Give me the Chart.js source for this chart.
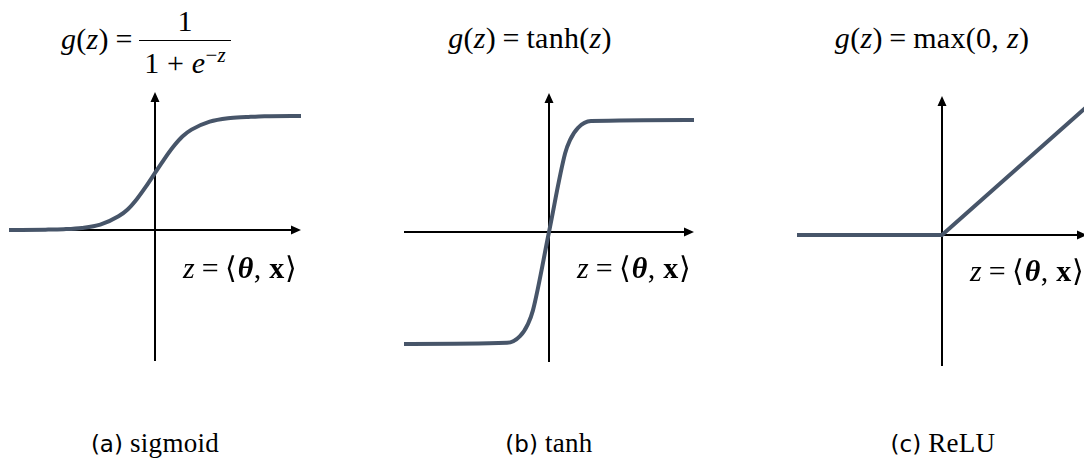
<!DOCTYPE html>
<html lang="es">
<head>
<meta charset="utf-8">
<title>Funciones de activación</title>
<script src="https://cdn.jsdelivr.net/npm/chart.js@4.4.1/dist/chart.umd.min.js"></script>
<style>
    body {
        margin: 0;
        width: 1084px;
        height: 459px;
        overflow: hidden;
        background: #fff;
        position: relative;
        font-family: "Liberation Serif", serif;
        color: #000;
    }
    canvas { position: absolute; }
    .texto {
        position: absolute;
        width: 400px;
        margin-left: -200px;
        height: 40px;
        margin-top: -20px;
        line-height: 40px;
        text-align: center;
        white-space: nowrap;
        font-family: "Liberation Serif", serif;
        font-size: 30px;
        letter-spacing: 0.3px;
    }
    .eq { margin: 0 0.22em; }
    .op { margin: 0 0.25em; }
    .frac {
        display: inline-flex;
        flex-direction: column;
        align-items: center;
        vertical-align: middle;
        line-height: 1;
    }
    .frac .num { padding: 0 4px 4px; }
    .frac .den { border-top: 1.3px solid #000; padding: 4px 5px 0; }
    .frac sup { font-size: 21px; }
    .sans { font-family: "DejaVu Sans", sans-serif; font-size: 23px; letter-spacing: 0; }
    .serif { font-family: "Liberation Serif", serif; }
    .pie { font-size: 27px; letter-spacing: 0.3px; }
</style>
</head>
<body>

<div class="texto" style="left:146px; top:26px;"><i>g</i>(<i>z</i>)<span class="eq">=</span><span class="frac"><span class="num">1</span><span class="den">1<span class="op">+</span><i>e</i><sup>−<i>z</i></sup></span></span></div>
<div class="texto" style="left:530px; top:38px;"><i>g</i>(<i>z</i>)<span class="eq">=</span>tanh(<i>z</i>)</div>
<div class="texto" style="left:932px; top:38px;"><i>g</i>(<i>z</i>)<span class="eq">=</span>max(0, <i>z</i>)</div>

<canvas id="graficaSigmoide" width="312" height="289" style="left:-1px; top:82px;"></canvas>
<canvas id="graficaTanh" width="310" height="289" style="left:394px; top:83px;"></canvas>
<canvas id="graficaRelu" width="310" height="290" style="left:787px; top:86px;"></canvas>

<div class="texto" style="left:240px; top:268px;"><i>z</i><span class="eq">=</span>⟨<b><i>θ</i></b>, <b>x</b>⟩</div>
<div class="texto" style="left:634px; top:268px;"><i>z</i><span class="eq">=</span>⟨<b><i>θ</i></b>, <b>x</b>⟩</div>
<div class="texto" style="left:1027px; top:271px;"><i>z</i><span class="eq">=</span>⟨<b><i>θ</i></b>, <b>x</b>⟩</div>

<div class="texto pie" style="left:155px; top:443px;"><span class="sans">(a)</span> <span class="serif">sigmoid</span></div>
<div class="texto pie" style="left:549px; top:443px;"><span class="sans">(b)</span> <span class="serif">tanh</span></div>
<div class="texto pie" style="left:943px; top:443px;"><span class="sans">(c)</span> <span class="serif">ReLU</span></div>

<script>
const COLOR_CURVA = "#475569";

// Datos
const sigmoideZ = [-8, -6, -5, -4, -3, -2, -1.5, -1, -0.5, 0, 0.5, 1, 1.5, 2, 3, 4, 5, 6, 8];
const sigmoideG = [0, 0.003, 0.007, 0.018, 0.047, 0.12, 0.18, 0.27, 0.38, 0.5, 0.62, 0.73, 0.82, 0.88, 0.95, 0.98, 0.99, 0.998, 1];

const tanhZ = [-6.5, -1.88, -1.3, -0.94, -0.72, 0, 0.72, 0.94, 1.3, 1.88, 6.5];
const tanhG = [-1, -0.99, -0.93, -0.82, -0.7, 0, 0.7, 0.82, 0.93, 0.99, 1];

const reluZ = [-5, 0, 5];
const reluG = [0, 0, 5];

// Ejes con flecha que pasan por el origen
const ejes = {

    id: "ejes",

    beforeDatasetsDraw(chart) {

        const { ctx, chartArea: a, scales: { x, y } } = chart;

        const x0 = x.getPixelForValue(0);
        const y0 = y.getPixelForValue(0);

        ctx.save();

        ctx.strokeStyle = "#000";
        ctx.fillStyle = "#000";
        ctx.lineWidth = 2;

        ctx.beginPath();
        ctx.moveTo(a.left, y0);
        ctx.lineTo(a.right - 6, y0);
        ctx.moveTo(x0, a.bottom);
        ctx.lineTo(x0, a.top + 6);
        ctx.stroke();

        ctx.beginPath();
        ctx.moveTo(a.right, y0);
        ctx.lineTo(a.right - 10, y0 - 4.5);
        ctx.lineTo(a.right - 10, y0 + 4.5);
        ctx.closePath();
        ctx.moveTo(x0, a.top);
        ctx.lineTo(x0 - 4.5, a.top + 10);
        ctx.lineTo(x0 + 4.5, a.top + 10);
        ctx.closePath();
        ctx.fill();

        ctx.restore();

    }

};

function crearGrafica(id, zs, gs, xmin, xmax, ymin, ymax, suave) {

    new Chart(document.getElementById(id), {

        type: "scatter",

        data: {
            datasets: [{
                data: zs.map((z, i) => ({ x: z, y: gs[i] })),
                showLine: true,
                borderColor: COLOR_CURVA,
                borderWidth: 4,
                borderJoinStyle: "round",
                pointRadius: 0,
                cubicInterpolationMode: suave ? "monotone" : "default",
                tension: 0,
                clip: false
            }]
        },

        options: {
            responsive: false,
            animation: false,
            events: [],
            layout: { padding: 10 },
            plugins: {
                legend: { display: false },
                tooltip: { enabled: false }
            },
            scales: {
                x: { type: "linear", display: false, min: xmin, max: xmax },
                y: { type: "linear", display: false, min: ymin, max: ymax }
            }
        },

        plugins: [ejes]

    });

}

crearGrafica("graficaSigmoide", sigmoideZ, sigmoideG, -8, 8, -1.149, 1.21, true);
crearGrafica("graficaTanh", tanhZ, tanhG, -6.5, 6.5, -1.161, 1.241, true);
crearGrafica("graficaRelu", reluZ, reluG, -5, 5, -5.10, 5.41, false);
</script>
</body>
</html>
